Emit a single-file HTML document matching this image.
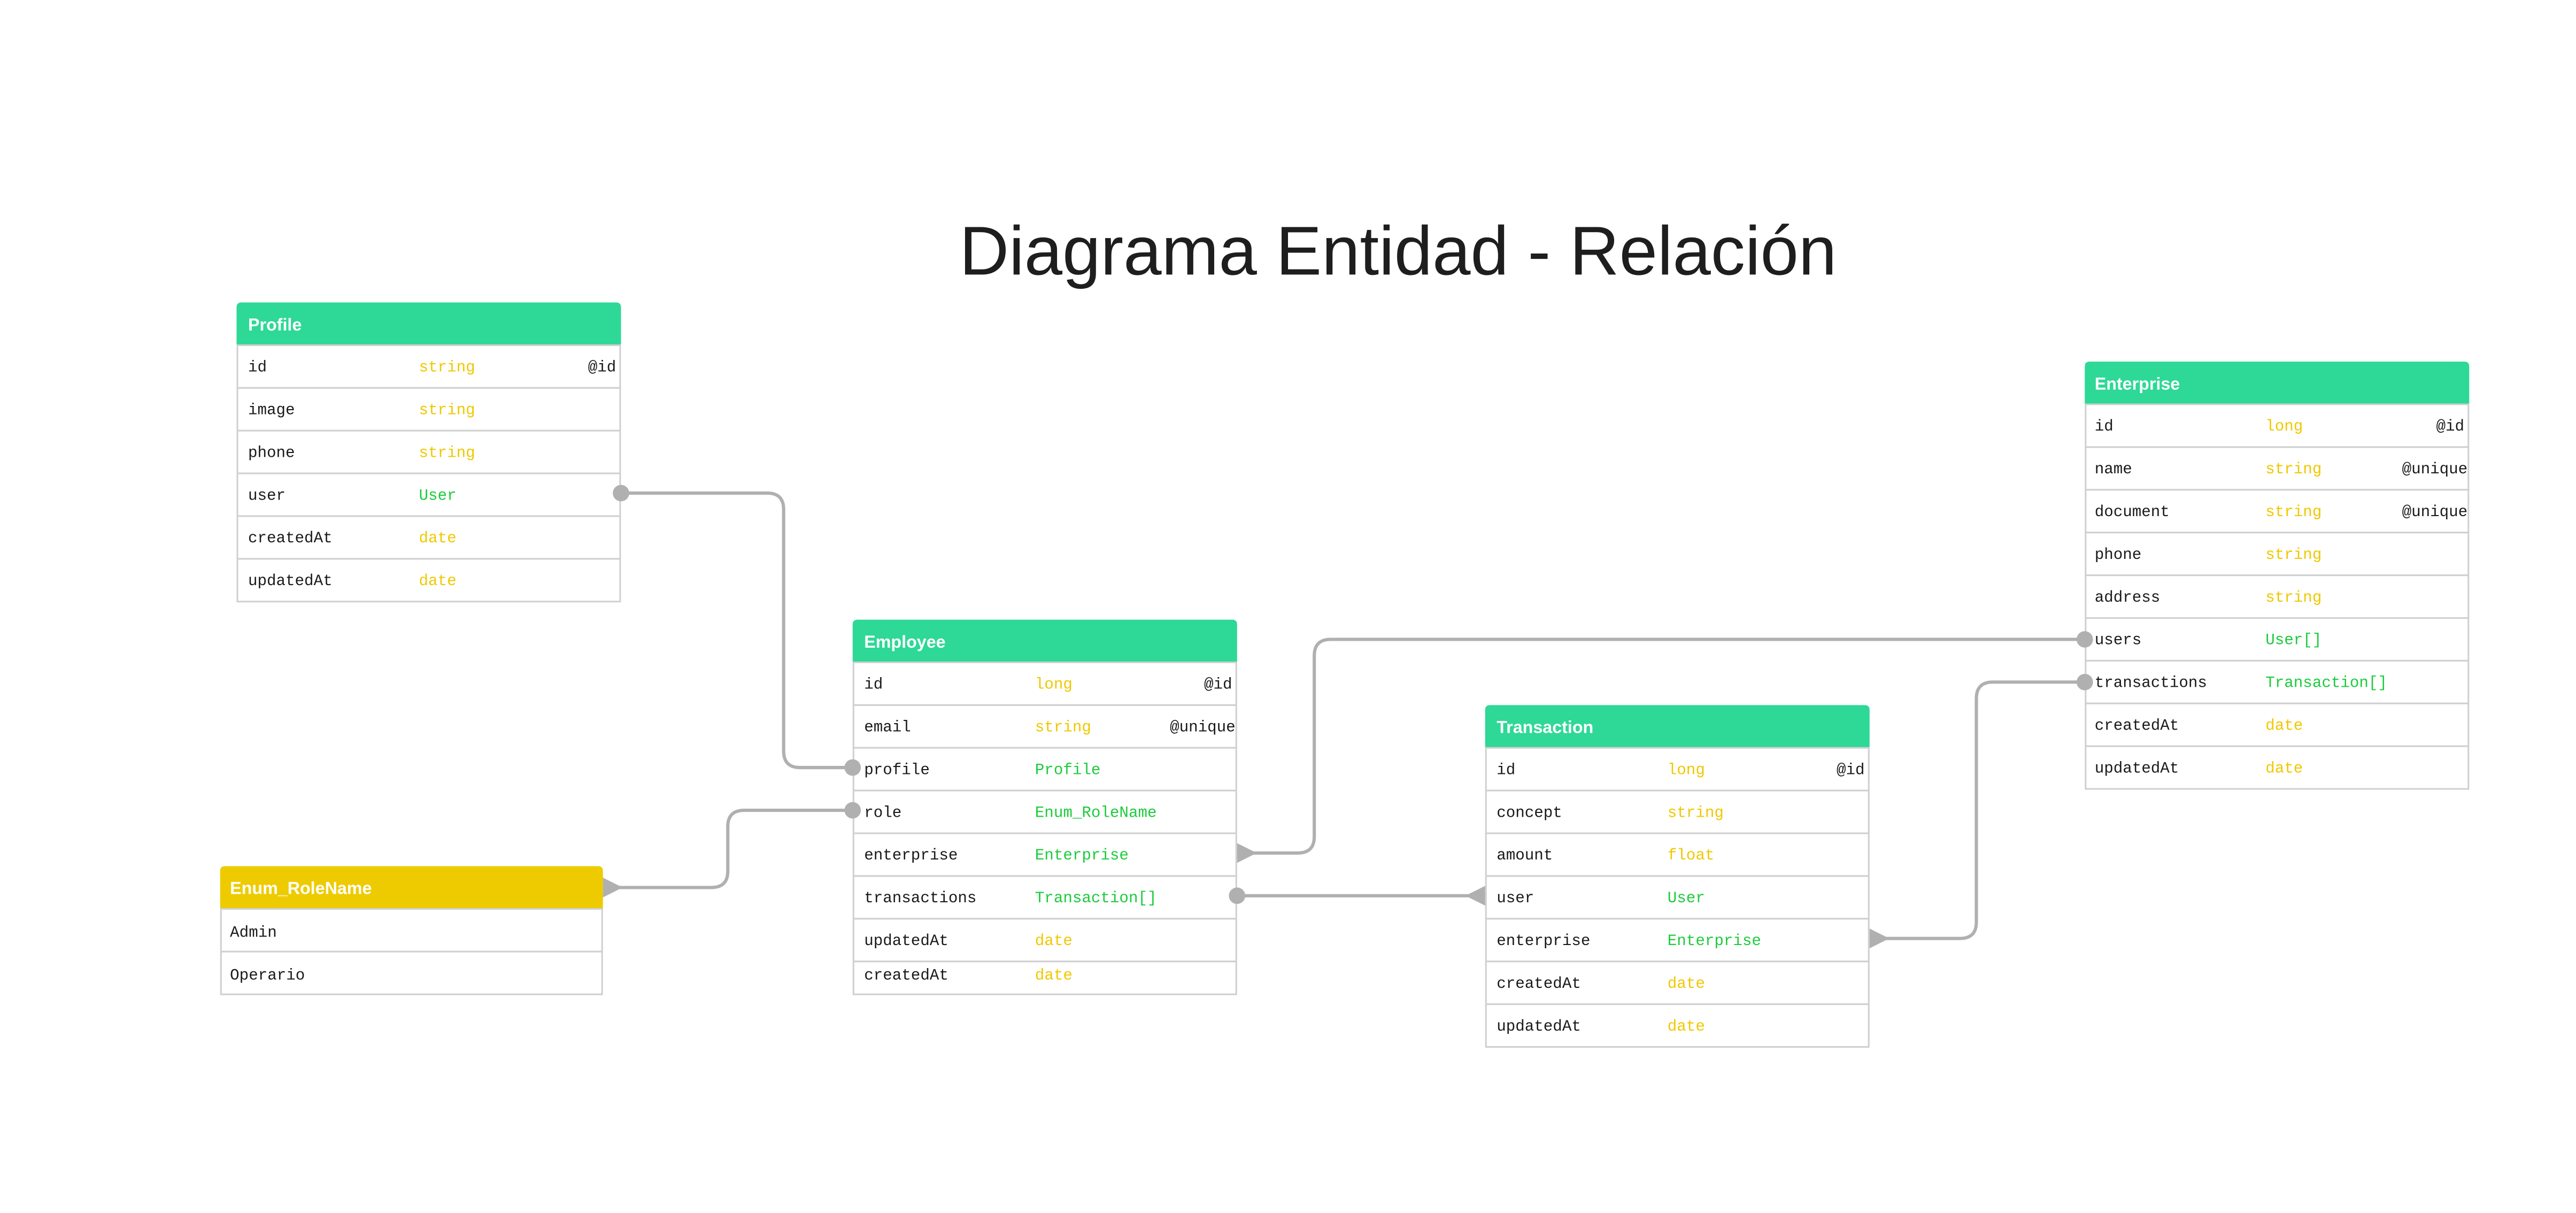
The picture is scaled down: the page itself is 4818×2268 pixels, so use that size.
<!DOCTYPE html>
<html><head><meta charset="utf-8"><style>
html,body{margin:0;padding:0;background:#fff;}
svg{display:block;}
.h{font-family:"Liberation Sans",sans-serif;font-weight:bold;font-size:10.5px;fill:#fff;}
.n{font-family:"Liberation Mono",monospace;font-size:9.5px;fill:#1a1a1a;}
.t{font-family:"Liberation Mono",monospace;font-size:9.5px;fill:#f0c800;}
.r{font-family:"Liberation Mono",monospace;font-size:9.5px;fill:#1ccc3c;}
.row{fill:#fff;stroke:#d0d0d0;stroke-width:1;}
.ln{fill:none;stroke:#b0b0b0;stroke-width:2;}
.dot{fill:#b0b0b0;}
</style></head><body>
<svg width="4818" height="2268" viewBox="0 0 1568 738" xmlns="http://www.w3.org/2000/svg">
<rect width="1568" height="738" fill="#fff"/>
<text x="584" y="167" font-family="Liberation Sans, sans-serif" font-size="42" fill="#1e1e1e" textLength="534" lengthAdjust="spacingAndGlyphs">Diagrama Entidad - Relación</text>

<!-- connectors -->
<path class="ln" d="M378,300 H467 Q477,300 477,310 V457 Q477,467 487,467 H519"/>
<path class="ln" d="M370,540 H433 Q443,540 443,530 V503 Q443,493 453,493 H519"/>
<path class="ln" d="M756,519 H790 Q800,519 800,509 V399 Q800,389 810,389 H1269"/>
<path class="ln" d="M753,545 H901"/>
<path class="ln" d="M1141,571 H1193 Q1203,571 1203,561 V425 Q1203,415 1213,415 H1269"/>

<!-- Profile -->
<g>
<path d="M144,210 V187 Q144,184 147,184 H375 Q378,184 378,187 V210 Z" fill="#2ed896"/>
<text class="h" x="151" y="201">Profile</text>
<rect class="row" x="144.5" y="210" width="233" height="26"/>
<rect class="row" x="144.5" y="236" width="233" height="26"/>
<rect class="row" x="144.5" y="262" width="233" height="26"/>
<rect class="row" x="144.5" y="288" width="233" height="26"/>
<rect class="row" x="144.5" y="314" width="233" height="26"/>
<rect class="row" x="144.5" y="340" width="233" height="26"/>
<text class="n" x="151" y="226">id</text><text class="t" x="255" y="226">string</text><text class="n" x="375" y="226" text-anchor="end">@id</text>
<text class="n" x="151" y="252">image</text><text class="t" x="255" y="252">string</text>
<text class="n" x="151" y="278">phone</text><text class="t" x="255" y="278">string</text>
<text class="n" x="151" y="304">user</text><text class="r" x="255" y="304">User</text>
<text class="n" x="151" y="330">createdAt</text><text class="t" x="255" y="330">date</text>
<text class="n" x="151" y="356">updatedAt</text><text class="t" x="255" y="356">date</text>
</g>

<!-- Employee -->
<g>
<path d="M519,403 V380 Q519,377 522,377 H750 Q753,377 753,380 V403 Z" fill="#2ed896"/>
<text class="h" x="526" y="394">Employee</text>
<rect class="row" x="519.5" y="403" width="233" height="26"/>
<rect class="row" x="519.5" y="429" width="233" height="26"/>
<rect class="row" x="519.5" y="455" width="233" height="26"/>
<rect class="row" x="519.5" y="481" width="233" height="26"/>
<rect class="row" x="519.5" y="507" width="233" height="26"/>
<rect class="row" x="519.5" y="533" width="233" height="26"/>
<rect class="row" x="519.5" y="559" width="233" height="26"/>
<rect class="row" x="519.5" y="585" width="233" height="20"/>
<text class="n" x="526" y="419">id</text><text class="t" x="630" y="419">long</text><text class="n" x="750" y="419" text-anchor="end">@id</text>
<text class="n" x="526" y="445">email</text><text class="t" x="630" y="445">string</text><text class="n" x="752" y="445" text-anchor="end">@unique</text>
<text class="n" x="526" y="471">profile</text><text class="r" x="630" y="471">Profile</text>
<text class="n" x="526" y="497">role</text><text class="r" x="630" y="497">Enum_RoleName</text>
<text class="n" x="526" y="523">enterprise</text><text class="r" x="630" y="523">Enterprise</text>
<text class="n" x="526" y="549">transactions</text><text class="r" x="630" y="549">Transaction[]</text>
<text class="n" x="526" y="575">updatedAt</text><text class="t" x="630" y="575">date</text>
<text class="n" x="526" y="596">createdAt</text><text class="t" x="630" y="596">date</text>
</g>

<!-- Enum_RoleName -->
<g>
<path d="M134,553 V530 Q134,527 137,527 H364 Q367,527 367,530 V553 Z" fill="#eecb00"/>
<text class="h" x="140" y="544">Enum_RoleName</text>
<rect class="row" x="134.5" y="553" width="232" height="26"/>
<rect class="row" x="134.5" y="579" width="232" height="26"/>
<text class="n" x="140" y="570">Admin</text>
<text class="n" x="140" y="596">Operario</text>
</g>

<!-- Transaction -->
<g>
<path d="M904,455 V432 Q904,429 907,429 H1135 Q1138,429 1138,432 V455 Z" fill="#2ed896"/>
<text class="h" x="911" y="446">Transaction</text>
<rect class="row" x="904.5" y="455" width="233" height="26"/>
<rect class="row" x="904.5" y="481" width="233" height="26"/>
<rect class="row" x="904.5" y="507" width="233" height="26"/>
<rect class="row" x="904.5" y="533" width="233" height="26"/>
<rect class="row" x="904.5" y="559" width="233" height="26"/>
<rect class="row" x="904.5" y="585" width="233" height="26"/>
<rect class="row" x="904.5" y="611" width="233" height="26"/>
<text class="n" x="911" y="471">id</text><text class="t" x="1015" y="471">long</text><text class="n" x="1135" y="471" text-anchor="end">@id</text>
<text class="n" x="911" y="497">concept</text><text class="t" x="1015" y="497">string</text>
<text class="n" x="911" y="523">amount</text><text class="t" x="1015" y="523">float</text>
<text class="n" x="911" y="549">user</text><text class="r" x="1015" y="549">User</text>
<text class="n" x="911" y="575">enterprise</text><text class="r" x="1015" y="575">Enterprise</text>
<text class="n" x="911" y="601">createdAt</text><text class="t" x="1015" y="601">date</text>
<text class="n" x="911" y="627">updatedAt</text><text class="t" x="1015" y="627">date</text>
</g>

<!-- Enterprise -->
<g>
<path d="M1269,246 V223 Q1269,220 1272,220 H1500 Q1503,220 1503,223 V246 Z" fill="#2ed896"/>
<text class="h" x="1275" y="237">Enterprise</text>
<rect class="row" x="1269.5" y="246" width="233" height="26"/>
<rect class="row" x="1269.5" y="272" width="233" height="26"/>
<rect class="row" x="1269.5" y="298" width="233" height="26"/>
<rect class="row" x="1269.5" y="324" width="233" height="26"/>
<rect class="row" x="1269.5" y="350" width="233" height="26"/>
<rect class="row" x="1269.5" y="376" width="233" height="26"/>
<rect class="row" x="1269.5" y="402" width="233" height="26"/>
<rect class="row" x="1269.5" y="428" width="233" height="26"/>
<rect class="row" x="1269.5" y="454" width="233" height="26"/>
<text class="n" x="1275" y="262">id</text><text class="t" x="1379" y="262">long</text><text class="n" x="1500" y="262" text-anchor="end">@id</text>
<text class="n" x="1275" y="288">name</text><text class="t" x="1379" y="288">string</text><text class="n" x="1502" y="288" text-anchor="end">@unique</text>
<text class="n" x="1275" y="314">document</text><text class="t" x="1379" y="314">string</text><text class="n" x="1502" y="314" text-anchor="end">@unique</text>
<text class="n" x="1275" y="340">phone</text><text class="t" x="1379" y="340">string</text>
<text class="n" x="1275" y="366">address</text><text class="t" x="1379" y="366">string</text>
<text class="n" x="1275" y="392">users</text><text class="r" x="1379" y="392">User[]</text>
<text class="n" x="1275" y="418">transactions</text><text class="r" x="1379" y="418">Transaction[]</text>
<text class="n" x="1275" y="444">createdAt</text><text class="t" x="1379" y="444">date</text>
<text class="n" x="1275" y="470">updatedAt</text><text class="t" x="1379" y="470">date</text>
</g>

<!-- endpoints -->
<circle class="dot" cx="378" cy="300" r="5"/>
<circle class="dot" cx="519" cy="467" r="5"/>
<circle class="dot" cx="519" cy="493" r="5"/>
<circle class="dot" cx="753" cy="545" r="5"/>
<circle class="dot" cx="1269" cy="389" r="5"/>
<circle class="dot" cx="1269" cy="415" r="5"/>
<polygon class="dot" points="367,534 367,546 379,540"/>
<polygon class="dot" points="753,513 753,525 765,519"/>
<polygon class="dot" points="904,539 904,551 892,545"/>
<polygon class="dot" points="1138,565 1138,577 1150,571"/>
</svg>
</body></html>
